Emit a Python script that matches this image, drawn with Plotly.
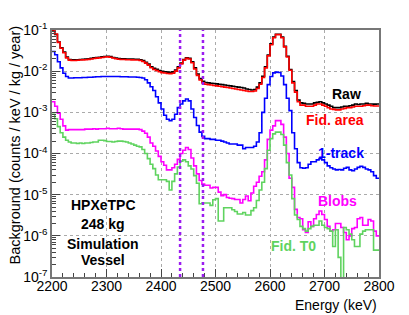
import plotly.graph_objects as go

# ---------------- data (5 keV bins, 2200-2800 keV) ----------------
bin_low = 2200
bin_width = 5
n_bins = 120
energy_edges = [bin_low + bin_width * i for i in range(n_bins + 1)]

raw = [
    0.095, 0.078, 0.051, 0.037, 0.029, 0.022, 0.0192, 0.0188, 0.0188, 0.0190,
    0.0192, 0.0195, 0.0197, 0.0200, 0.0205, 0.0210, 0.0214, 0.0218, 0.0222, 0.0228,
    0.0230, 0.0225, 0.0215, 0.0208, 0.0203, 0.0200, 0.0200, 0.0198, 0.0197, 0.0196,
    0.0195, 0.0194, 0.0190, 0.0180, 0.0165, 0.0148, 0.0128, 0.0117, 0.0111, 0.0104,
    0.0099, 0.0097, 0.0095, 0.0094, 0.0096, 0.0107, 0.0127, 0.0157, 0.0192, 0.0212,
    0.0205, 0.0168, 0.0120, 0.0085, 0.0066, 0.0057, 0.0053, 0.0052, 0.0051, 0.0050,
    0.0049, 0.0048, 0.0047, 0.0046, 0.0045, 0.0044, 0.0043, 0.0042, 0.0041, 0.0040,
    0.0039, 0.0037, 0.0036, 0.0035, 0.0036, 0.0041, 0.0052, 0.0075, 0.0127, 0.0245,
    0.046, 0.067, 0.079, 0.079, 0.067, 0.040, 0.023, 0.011, 0.0056, 0.0034,
    0.0020, 0.0017, 0.00165, 0.0016, 0.0016, 0.0016, 0.0017, 0.00175, 0.0018, 0.0017,
    0.0016, 0.0015, 0.0014, 0.0013, 0.0013, 0.0013, 0.00135, 0.0014, 0.0014, 0.00145,
    0.0015, 0.0016, 0.00155, 0.0016, 0.0016, 0.00165, 0.0016, 0.0016, 0.00158, 0.0016,
]

fid_area = [
    0.10, 0.080, 0.050, 0.036, 0.028, 0.021, 0.0185, 0.0182, 0.0182, 0.0184,
    0.0186, 0.0188, 0.0190, 0.0193, 0.0198, 0.0203, 0.0207, 0.0210, 0.0214, 0.0220,
    0.0222, 0.0217, 0.0208, 0.0200, 0.0195, 0.0192, 0.0192, 0.0190, 0.0189, 0.0188,
    0.0187, 0.0186, 0.0182, 0.0172, 0.0157, 0.0140, 0.0121, 0.0110, 0.0104, 0.0097,
    0.0092, 0.0090, 0.0088, 0.0087, 0.0089, 0.0100, 0.0120, 0.0150, 0.0185, 0.0205,
    0.0198, 0.0160, 0.0113, 0.0079, 0.0061, 0.0052, 0.0048, 0.0047, 0.0046, 0.0045,
    0.0044, 0.0043, 0.0042, 0.0041, 0.0040, 0.0039, 0.0038, 0.0037, 0.0036, 0.0035,
    0.0034, 0.0033, 0.0032, 0.0032, 0.0033, 0.0038, 0.0048, 0.0070, 0.0120, 0.0235,
    0.044, 0.065, 0.077, 0.077, 0.065, 0.039, 0.022, 0.0105, 0.0052, 0.0031,
    0.0018, 0.0015, 0.0015, 0.0014, 0.0014, 0.0014, 0.0015, 0.0016, 0.0016, 0.0015,
    0.0014, 0.0013, 0.0012, 0.00118, 0.00115, 0.00115, 0.0012, 0.00125, 0.0013, 0.0013,
    0.00135, 0.0014, 0.0014, 0.0014, 0.00145, 0.0015, 0.0015, 0.00145, 0.00142, 0.00142,
]

one_track = [
    0.030, 0.025, 0.017, 0.012, 0.0089, 0.0074, 0.0068, 0.0068, 0.0069, 0.0069,
    0.0069, 0.0070, 0.0070, 0.0071, 0.0071, 0.0072, 0.0073, 0.0073, 0.0074, 0.0074,
    0.0074, 0.0074, 0.0074, 0.0074, 0.0074, 0.0073, 0.0073, 0.0073, 0.0072, 0.0072,
    0.0072, 0.0071, 0.0070, 0.0068, 0.0062, 0.0052, 0.0042, 0.0034, 0.0024, 0.0017,
    0.0012, 0.00085, 0.00068, 0.00063, 0.00068, 0.0009, 0.0013, 0.0016, 0.0019, 0.0021,
    0.0019, 0.0012, 0.00075, 0.00048, 0.00033, 0.00026, 0.00023, 0.00023, 0.00022, 0.00022,
    0.00021, 0.00021, 0.00020, 0.00019, 0.00018, 0.00017, 0.00017, 0.00017, 0.00016, 0.00016,
    0.00013, 0.00014, 0.00014, 0.00014, 0.00015, 0.00019, 0.00032, 0.0010, 0.0022, 0.0047,
    0.0074, 0.0091, 0.0095, 0.0093, 0.0076, 0.0047, 0.0022, 0.0011, 0.00032, 0.00013,
    6.0e-5, 4.5e-5, 4.4e-5, 4.5e-5, 5.5e-5, 6.3e-5, 6.3e-5, 7.0e-5, 7.5e-5, 7.0e-5,
    6.0e-5, 5.0e-5, 4.5e-5, 4.2e-5, 4.0e-5, 4.1e-5, 4.0e-5, 4.4e-5, 4.6e-5, 4.0e-5,
    3.8e-5, 4.2e-5, 4.6e-5, 4.9e-5, 4.6e-5, 4.2e-5, 4.0e-5, 3.6e-5, 2.9e-5, 2.5e-5,
]

blobs = [
    0.0018, 0.0014, 0.00095, 0.00068, 0.00047, 0.00037, 0.00038, 0.00038, 0.00038, 0.00038,
    0.00038, 0.00038, 0.00039, 0.00039, 0.00039, 0.00040, 0.00039, 0.00040, 0.00040, 0.00040,
    0.00041, 0.00040, 0.00040, 0.00040, 0.00041, 0.00040, 0.00039, 0.00039, 0.00039, 0.00039,
    0.00039, 0.00039, 0.00038, 0.00035, 0.00031, 0.00025, 0.00018, 0.00015, 0.000115, 0.000085,
    6.3e-5, 5.2e-5, 4.0e-5, 4.0e-5, 4.5e-5, 5.5e-5, 7.2e-5, 1.0e-4, 1.2e-4, 1.4e-4,
    1.25e-4, 7.8e-5, 5.0e-5, 3.2e-5, 2.2e-5, 1.8e-5, 1.7e-5, 1.7e-5, 1.45e-5, 1.5e-5,
    1.5e-5, 1.15e-5, 9.5e-6, 1.0e-5, 8.5e-6, 8.2e-6, 8.0e-6, 7.6e-6, 7.6e-6, 6.3e-6,
    7.6e-6, 9.3e-6, 7.1e-6, 1.1e-5, 1.6e-5, 2.0e-5, 2.8e-5, 3.6e-5, 7.0e-5, 2.2e-4,
    3.7e-4, 4.7e-4, 6.3e-4, 6.3e-4, 5.1e-4, 2.5e-4, 1.0e-4, 2.5e-5, 1.5e-5, 4.4e-6,
    2.8e-6, 2.6e-6, 1.4e-6, 1.2e-6, 2.2e-6, 1.7e-6, 2.6e-6, 3.3e-6, 4.0e-6, 3.3e-6,
    2.5e-6, 1.7e-6, 1.3e-6, 1.4e-6, 2.0e-6, 2.0e-6, 1.6e-6, 1.2e-6, 8.0e-7, 1.0e-6,
    1.5e-6, 1.6e-6, 2.6e-6, 2.8e-6, 1.8e-6, 1.8e-6, 2.5e-6, 2.3e-6, 1.3e-6, 1.0e-6,
]

fid_t0 = [
    9.0e-4, 7.0e-4, 4.5e-4, 3.2e-4, 2.5e-4, 2.1e-4, 1.9e-4, 1.8e-4, 1.8e-4, 1.75e-4,
    1.8e-4, 1.75e-4, 1.8e-4, 1.8e-4, 1.85e-4, 1.9e-4, 1.9e-4, 2.1e-4, 2.1e-4, 2.05e-4,
    1.95e-4, 1.95e-4, 1.9e-4, 1.95e-4, 2.0e-4, 2.0e-4, 1.95e-4, 1.9e-4, 1.8e-4, 1.7e-4,
    1.6e-4, 1.5e-4, 1.45e-4, 1.25e-4, 1.0e-4, 7.5e-5, 5.5e-5, 4.3e-5, 3.0e-5, 2.3e-5,
    2.3e-5, 2.3e-5, 2.1e-5, 1.3e-5, 2.1e-5, 3.2e-5, 4.7e-5, 6.5e-5, 7.0e-5, 6.3e-5,
    5.0e-5, 4.2e-5, 2.9e-5, 1.9e-5, 6.0e-6, 6.3e-6, 6.3e-6, 6.3e-6, 5.5e-6, 7.5e-6,
    8.0e-6, 2.3e-6, 2.3e-6, 4.8e-6, 4.8e-6, 4.8e-6, 4.3e-6, 3.9e-6, 3.4e-6, 3.4e-6,
    3.7e-6, 3.2e-6, 3.2e-6, 4.1e-6, 4.8e-6, 7.2e-6, 1.3e-5, 2.0e-5, 4.3e-5, 1.2e-4,
    2.3e-4, 3.0e-4, 3.3e-4, 3.3e-4, 2.9e-4, 1.6e-4, 6.0e-5, 3.0e-5, 8.0e-6, 3.2e-6,
    2.5e-6, 1.7e-6, 1.5e-6, 1.3e-6, 1.5e-6, 1.7e-6, 1.8e-6, 1.8e-6, 2.3e-6, 1.8e-6,
    1.6e-6, 1.5e-6, 1.3e-6, 5.5e-7, 1.4e-6, 3.0e-7, 1e-9, 1.6e-6, 1.4e-6, 1.1e-6,
    8.0e-7, 5.5e-7, 5.5e-7, 1.1e-6, 1.3e-6, 1.4e-6, 1.4e-6, 1.4e-6, 4.5e-7, 4.5e-7,
]

roi_bounds = [2435, 2477]

series_names = ["Raw", "Fid. area", "1-track", "Blobs", "Fid. T0"]
series_values = [raw, fid_area, one_track, blobs, fid_t0]
series_colors = ["#000000", "#ff0000", "#0000ff", "#ff00ff", "#5fd35f"]

y_tick_exps = [-7, -6, -5, -4, -3, -2, -1]
y_tick_labels = ["10<sup>-7</sup>", "10<sup>-6</sup>", "10<sup>-5</sup>", "10<sup>-4</sup>",
                 "10<sup>-3</sup>", "10<sup>-2</sup>", "10<sup>-1</sup>"]
x_tick_vals = [2200, 2300, 2400, 2500, 2600, 2700, 2800]

# ---------------- figure ----------------
FONT = "Liberation Sans, Arial, Helvetica, sans-serif"
fig = go.Figure()

for name, vals, col in zip(series_names, series_values, series_colors):
    fig.add_trace(go.Scatter(
        x=energy_edges, y=vals + [vals[-1]], mode="lines", name=name,
        line=dict(color=col, width=1.6, shape="hv"), showlegend=False))

for xb in roi_bounds:
    fig.add_shape(type="line", xref="x", yref="paper", x0=xb, x1=xb, y0=0, y1=1,
                  line=dict(color="#9b1cf0", width=2.5, dash="dot"))

# page body has an 8px default margin, so the figure is sized/margined to compensate
fig.update_layout(
    width=401, height=307,
    margin=dict(l=44, r=30, t=18, b=38),
    paper_bgcolor="white", plot_bgcolor="white",
    font=dict(family=FONT, size=14, color="black"),
)

fig.update_xaxes(
    range=[2200, 2800], tickvals=x_tick_vals,
    ticks="inside", ticklen=8, tickcolor="#444",
    showline=True, linecolor="#777", linewidth=1.5, mirror=True,
    showgrid=True, gridcolor="#aaaaaa", griddash="dot", gridwidth=1,
    minor=dict(ticks="inside", ticklen=4, dtick=20, tickcolor="#444", showgrid=False),
    tickfont=dict(size=14), zeroline=False, ticklabelstandoff=-5,
)
fig.update_yaxes(
    type="log", range=[-7, -1],
    tickvals=[10.0 ** e for e in y_tick_exps], ticktext=y_tick_labels,
    ticks="inside", ticklen=8, tickcolor="#444",
    showline=True, linecolor="#777", linewidth=1.5, mirror=True,
    showgrid=True, gridcolor="#aaaaaa", griddash="dot", gridwidth=1,
    minor=dict(ticks="inside", ticklen=4, dtick="D1", tickcolor="#444", showgrid=False),
    tickfont=dict(size=14), zeroline=False,
)

# axis titles
fig.add_annotation(text="Background (counts / keV / kg / year)", xref="paper", yref="paper",
                   x=-0.112, y=0.534, xanchor="center", yanchor="middle", textangle=-90,
                   showarrow=False, font=dict(size=14.5))
fig.add_annotation(text="Energy (keV)", xref="paper", yref="paper",
                   x=1.0, y=-0.112, xanchor="right", yanchor="middle",
                   showarrow=False, font=dict(size=14))

# series labels
labels = [
    ("<b>Raw</b>", 0.951, 0.741, "right", "#000000"),
    ("<b>Fid. area</b>", 0.960, 0.637, "right", "#ff0000"),
    ("<b>1-track</b>", 0.960, 0.502, "right", "#0000ff"),
    ("<b>Blobs</b>", 0.873, 0.307, "center", "#ff00ff"),
    ("<b>Fid. T0</b>", 0.740, 0.127, "center", "#5fd35f"),
]
for txt, x, y, xa, col in labels:
    fig.add_annotation(text=txt, xref="paper", yref="paper", x=x, y=y, xanchor=xa,
                       yanchor="middle", showarrow=False, font=dict(size=14, color=col))

info_lines = ["HPXeTPC", "248 kg", "Simulation", "Vessel"]
info_y = [0.293, 0.213, 0.133, 0.068]
for txt, y in zip(info_lines, info_y):
    fig.add_annotation(text="<b>" + txt + "</b>", xref="paper", yref="paper", x=0.156, y=y,
                       xanchor="center", yanchor="middle", showarrow=False,
                       font=dict(size=14, color="black"))

fig.write_html("out.html")
